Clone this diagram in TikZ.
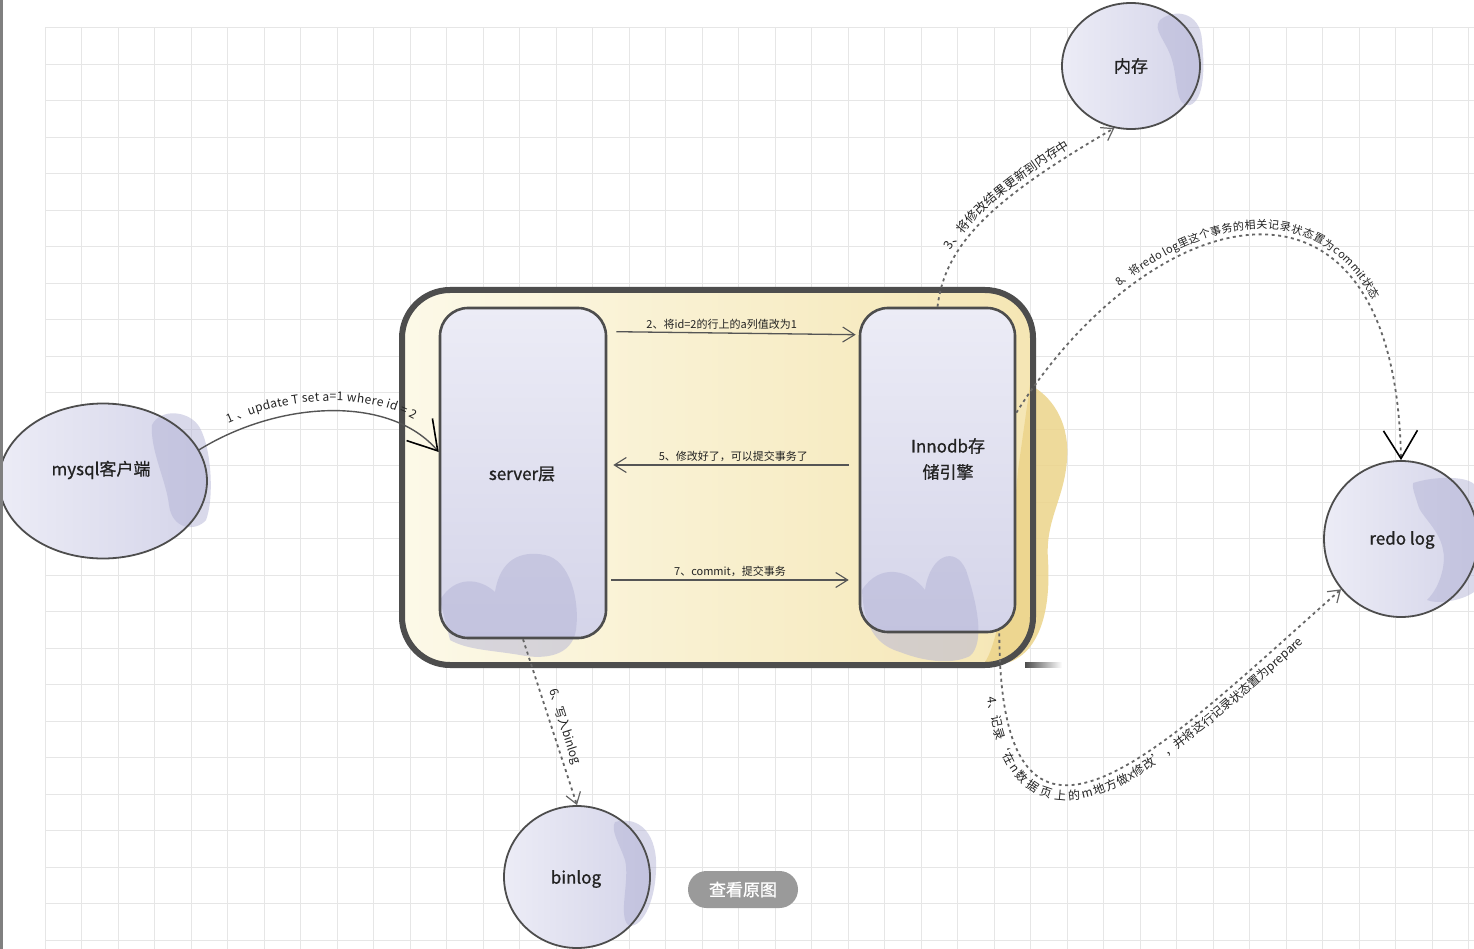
\documentclass[tikz,border=0pt]{standalone}
\usepackage{fontspec}
\setmainfont{Noto Sans CJK SC}
\newfontfamily\nodefont{Noto Sans CJK SC}[FakeBold=0.9]
\usetikzlibrary{arrows.meta,decorations.text,calc,shapes.geometric}
\definecolor{gridc}{HTML}{E6E6E6}
\definecolor{bord}{HTML}{4D4D4D}
\definecolor{lavA}{HTML}{ECECF6}
\definecolor{lavB}{HTML}{D4D4E9}
\definecolor{lavBlob}{HTML}{B4B4D6}
\definecolor{creamA}{HTML}{FCF9E8}
\definecolor{creamB}{HTML}{F5E6B4}
\definecolor{goldBlob}{HTML}{ECD48A}
\definecolor{linec}{HTML}{555555}
\definecolor{dotc}{HTML}{666666}
\definecolor{btnc}{HTML}{9A9A9A}
\definecolor{txtc}{HTML}{222222}
\newcommand\lblfont{\fontsize{11pt}{13pt}\selectfont}
\newcommand\lblfonta{\fontsize{12pt}{14pt}\selectfont}
\newcommand\lblfontb{\fontsize{12pt}{14pt}\selectfont}
\newcommand\lblfontc{\fontsize{12.5pt}{14pt}\selectfont}
\tikzset{
  ellfill/.style={ellipse, inner sep=0pt, draw=none, left color=lavA, right color=lavB},
  elldraw/.style={ellipse, inner sep=0pt, draw=bord, line width=1.8pt, fill=none},
  boxfill/.style={rectangle, rounded corners=28pt, inner sep=0pt, draw=none, top color=lavA, bottom color=lavB},
  boxdraw/.style={rectangle, rounded corners=28pt, inner sep=0pt, draw=bord, line width=2.6pt, fill=none},
  nodetxt/.style={text=txtc, align=center, inner sep=0pt, font=\nodefont\fontsize{17pt}{26pt}\selectfont},
  contfill/.style={rectangle, rounded corners=48pt, inner sep=0pt, draw=none, left color=creamA, right color=creamB},
  contdraw/.style={rectangle, rounded corners=48pt, inner sep=0pt, draw=bord, line width=6pt, fill=none},
  blob/.style={fill=lavBlob, opacity=0.5},
  goldblob/.style={fill=goldBlob, opacity=0.85},
  solidarrow/.style={draw=linec, line width=1.3pt, -{Straight Barb[length=12pt,width=15pt,line width=1.1pt]}},
  dotarrow/.style={draw=dotc, line width=1.8pt, dash pattern=on 3pt off 3.5pt,
    -{Straight Barb[length=11pt,width=15pt,line width=1.2pt]}},
  bigtip/.style={-{Straight Barb[length=28pt,width=34pt,line width=1.6pt,color=black]}},
  lbl/.style={text=txtc, font=\lblfont, inner sep=1pt},
  btnstyle/.style={rectangle, rounded corners=18.5pt, fill=btnc, text=white, inner sep=0pt,
    minimum width=110pt, minimum height=37pt, font=\nodefont\fontsize{17pt}{20pt}\selectfont},
}
\begin{document}
\begin{tikzpicture}[x=1pt,y=-1pt]
\useasboundingbox (0,0) rectangle (1474,949);
\fill[white] (0,0) rectangle (1474,949);
% grid
\foreach \i in {0,...,39} \draw[gridc, line width=0.8pt] (45+36.5*\i,27.5) -- (45+36.5*\i,949);
\foreach \j in {0,...,25} \draw[gridc, line width=0.8pt] (45,27.5+36.5*\j) -- (1474,27.5+36.5*\j);

% container
\node[contfill, minimum width=631pt, minimum height=375pt] (contbg) at (717.5,477.5) {};
\fill[goldblob] (1030,385) .. controls (1050,395) and (1070,420) .. (1067,460)
  .. controls (1064,500) and (1045,520) .. (1048,560) .. controls (1051,610) and (1040,650) .. (1010,662)
  -- (985,662) .. controls (1000,640) and (1010,560) .. (1018,470) -- cycle;
\node[contdraw, minimum width=631pt, minimum height=375pt] (cont) at (717.5,477.5) {};
\shade[left color=bord, right color=white] (1025,662) rectangle (1062,667);

% server box
\node[boxfill, minimum width=166pt, minimum height=330pt] (sbg) at (523,473) {};
\fill[blob] (440,600) .. controls (455,575) and (480,578) .. (495,592) .. controls (500,560) and (520,550) .. (545,555)
  .. controls (570,560) and (580,600) .. (576,630) .. controls (572,656) and (545,660) .. (520,655)
  .. controls (490,650) and (468,650) .. (450,640) -- cycle;
\node[boxdraw, minimum width=166pt, minimum height=330pt] (s) at (523,473) {};
\node[nodetxt] (stxt) at (522,474) {server层};

% innodb box
\node[boxfill, minimum width=155pt, minimum height=324pt] (ibg) at (937.5,470) {};
\fill[blob] (862,590) .. controls (880,562) and (910,570) .. (925,590) .. controls (930,555) and (955,545) .. (966,570)
  .. controls (976,600) and (986,642) .. (970,656) .. controls (950,666) and (920,660) .. (900,652)
  .. controls (880,646) and (864,632) .. cycle;
\node[boxdraw, minimum width=155pt, minimum height=324pt] (i) at (937.5,470) {};
\node[nodetxt] (itxt) at (948,459) {Innodb存\\储引擎};

% mysql client
\node[ellfill, minimum width=208pt, minimum height=155pt] (mbg) at (103,481) {};
\fill[blob] (152,425) .. controls (160,408) and (190,410) .. (200,428) .. controls (212,450) and (214,500) .. (206,520)
  .. controls (196,532) and (172,530) .. (169,505) .. controls (166,480) and (150,450) .. cycle;
\node[elldraw, minimum width=208pt, minimum height=155pt] (m) at (103,481) {};
\node[nodetxt] (mtxt) at (101,470) {mysql客户端};

% memory
\node[ellfill, minimum width=138pt, minimum height=126pt] (membg) at (1131,66) {};
\fill[blob] (1160,20) .. controls (1175,8) and (1200,12) .. (1202,40) .. controls (1205,70) and (1204,100) .. (1190,105)
  .. controls (1175,108) and (1178,80) .. (1172,60) .. controls (1166,40) and (1152,30) .. cycle;
\node[elldraw, minimum width=138pt, minimum height=126pt] (mem) at (1131,66) {};
\node[nodetxt] (memtxt) at (1131,66) {内存};

% redo log
\node[ellfill, minimum width=154pt, minimum height=156pt] (redobg) at (1401,539) {};
\fill[blob] (1413,483) .. controls (1435,476) and (1465,476) .. (1474,484) -- (1474,592)
  .. controls (1460,602) and (1435,604) .. (1427,600) .. controls (1442,585) and (1446,560) .. (1443,550)
  .. controls (1440,530) and (1420,515) .. (1418,505) .. controls (1415,495) and (1412,488) .. cycle;
\node[elldraw, minimum width=154pt, minimum height=156pt] (redo) at (1401,539) {};
\node[nodetxt] (redotxt) at (1402,540) {redo log};

% binlog
\node[ellfill, minimum width=146pt, minimum height=142pt] (binbg) at (577,877) {};
\fill[blob] (615,822) .. controls (640,815) and (658,835) .. (656,870) .. controls (655,905) and (640,930) .. (628,925)
  .. controls (618,915) and (630,880) .. (625,860) .. controls (620,845) and (610,830) .. cycle;
\node[elldraw, minimum width=146pt, minimum height=142pt] (bin) at (577,877) {};
\node[nodetxt] (bintxt) at (576,879) {binlog};

% arrow 1
\draw[draw=linec, line width=1.4pt, bigtip,
  postaction={decorate, decoration={text along path, text align=center, raise=10pt, text color=txtc,
    text={|\lblfonta|1 、update T set a=1 where id = 2}}}]
  (m.18) .. controls (280,400) and (390,395) .. ($(s.west)+(0,-21)$);

% arrows 2,5,7
\draw[solidarrow] ($(s.north east)+(9,25)$) -- node[lbl, above=2pt, pos=0.44] (l2) {2、将id=2的行上的a列值改为1} ($(i.north west)+(-3,28)$);
\draw[solidarrow] ($(i.west)+(-10,-5)$) -- node[lbl, above=2pt, pos=0.49] (l5) {5、修改好了，可以提交事务了} ($(s.east)+(6,-8)$);
\draw[solidarrow] ($(s.east)+(4,107)$) -- node[lbl, above=2pt, pos=0.5] (l7) {7、commit，提交事务} ($(i.west)+(-10,110)$);

% arrow 3
\draw[dotarrow,
  postaction={decorate, decoration={text along path, text align={left indent=56pt}, raise=6pt, text color=txtc,
    text={|\lblfontc|3、将修改结果更新到内存中}}}]
  (i.north) .. controls (945,245) and (990,200) .. (mem.255);

% arrow 8
\draw[dotarrow, bigtip,
  postaction={decorate, decoration={text along path, text align=center, raise=6pt, text color=txtc,
    text={|\lblfont|8、将redo log里这个事务的相关记录状态置为commit状态}}}]
  (i.36) .. controls (1150,200) and (1395,135) .. (redo.north);

% arrow 4
\draw[dotarrow,
  postaction={decorate, decoration={text along path, text align={left indent=62pt}, raise=-15pt, text color=txtc,
    text={|\lblfontb|4、记录‘在n数据页上的m地方做x修改’，并将这行记录状态置为prepare}}}]
  ($(i.south east)+(-17,0)$) .. controls (1000,920) and (1170,740) .. (redo.220);

% arrow 6
\draw[dotarrow] (s.south) -- node[sloped, above=4pt, pos=0.55, text=txtc, font=\lblfontb, inner sep=1pt] (l6) {6、写入binlog} (bin.north);

% button
\node[btnstyle] (btn) at (743,889.5) {查看原图};

% left edge bar
\fill[black!50] (0,0) rectangle (2.5,949);
\end{tikzpicture}
\end{document}
